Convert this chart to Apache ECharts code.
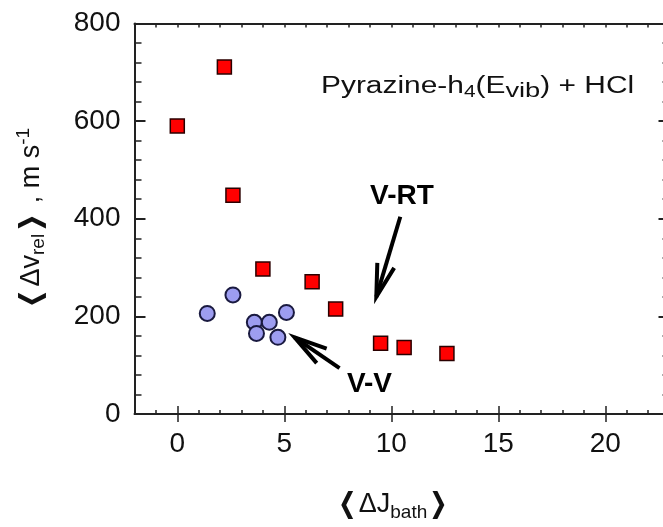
<!DOCTYPE html>
<html>
<head>
<meta charset="utf-8">
<script src="https://cdn.jsdelivr.net/npm/echarts@6/dist/echarts.min.js"></script>
<style>
  html, body { margin: 0; padding: 0; background: #fff; }
  #chart { width: 663px; height: 527px; }
</style>
</head>
<body>
<div id="chart"></div>
<script>
// V-RT channel: mean recoil velocity vs. mean bath rotational change
const vrtJ = [0, 2.2, 2.6, 4.0, 6.3, 7.4, 9.5, 10.6, 12.6];
const vrtV = [590, 711, 448, 297, 271, 215, 145, 136, 124];

// V-V channel
const vvJ = [1.4, 2.6, 3.6, 3.7, 4.3, 4.7, 5.1];
const vvV = [206, 244, 188, 165, 188, 157, 208];

// axis ranges and ticks
const xRange = [-2, 23];
const xMajorTicks = [0, 5, 10, 15, 20];
const yRange = [0, 800];
const yStep = 200;

// annotation arrows: [tailJ, tailV, tipJ, tipV]
const arrows = [
  [10.42, 404, 9.3, 240],
  [7.58, 94, 5.48, 157]
];
// annotation labels: [J, V, text]
const notes = [
  [10.5, 446, 'V-RT'],
  [8.98, 61, 'V-V']
];

const FONT = '"Liberation Sans", Arial, Helvetica, sans-serif';
const AXIS_COLOR = '#222';

const chart = echarts.init(document.getElementById('chart'), null, { renderer: 'canvas' });

function pairs(xs, ys) { return xs.map((x, i) => [x, ys[i]]); }

const baseX = {
  type: 'value', min: xRange[0], max: xRange[1],
  splitLine: { show: false }
};
const baseY = {
  type: 'value', min: yRange[0], max: yRange[1], interval: yStep,
  splitLine: { show: false }
};

function renderArrow(params, api) {
  const tail = api.coord([api.value(0), api.value(1)]);
  const tip = api.coord([api.value(2), api.value(3)]);
  const ang = Math.atan2(tail[1] - tip[1], tail[0] - tip[0]);
  const len = 34, spread = 15 * Math.PI / 180;
  const a1 = [tip[0] + len * Math.cos(ang + spread), tip[1] + len * Math.sin(ang + spread)];
  const a2 = [tip[0] + len * Math.cos(ang - spread), tip[1] + len * Math.sin(ang - spread)];
  return {
    type: 'group',
    children: [
      { type: 'line', shape: { x1: tail[0], y1: tail[1], x2: tip[0], y2: tip[1] },
        style: { stroke: '#000', lineWidth: 4 } },
      { type: 'polyline', shape: { points: [a1, tip, a2] },
        style: { stroke: '#000', lineWidth: 4, fill: null, lineJoin: 'miter' } }
    ]
  };
}

function renderNote(params, api) {
  const p = api.coord([api.value(0), api.value(1)]);
  return {
    type: 'text',
    x: p[0], y: p[1],
    style: {
      text: notes[params.dataIndex][2],
      fontFamily: FONT, fontWeight: 'bold', fontSize: 28,
      fill: '#000', align: 'center', verticalAlign: 'middle'
    }
  };
}

chart.setOption({
  animation: false,
  backgroundColor: '#fff',
  grid: { left: 134.5, top: 23.5, width: 535, height: 390.5, containLabel: false, outerBoundsMode: 'none' },
  xAxis: [
    Object.assign({}, baseX, {
      position: 'bottom', interval: 1,
      axisLine: { show: true, onZero: false, lineStyle: { color: AXIS_COLOR, width: 2 } },
      axisTick: { show: true, inside: true, length: 4, lineStyle: { color: AXIS_COLOR, width: 1.5 } },
      axisLabel: {
        show: true, margin: 16, fontSize: 28, color: '#111', fontFamily: FONT,
        formatter: v => (xMajorTicks.indexOf(v) >= 0 ? String(v) : '')
      },
      name: '{br|❬}ΔJ{sub|bath}{br|❭}',
      nameLocation: 'middle', nameGap: 74,
      nameTextStyle: {
        fontSize: 27, color: '#111', fontFamily: FONT, padding: [0, 18, 0, 0],
        rich: {
          sub: { fontSize: 19, fontFamily: FONT, color: '#111', padding: [15, 0, 0, 0] },
          br: { fontSize: 27, fontFamily: FONT, fontWeight: 'bold', color: '#111' }
        }
      }
    }),
    Object.assign({}, baseX, {
      position: 'bottom',
      axisLine: { show: false },
      axisTick: { show: true, inside: true, length: 8, customValues: xMajorTicks,
                  lineStyle: { color: AXIS_COLOR, width: 1.5 } },
      axisLabel: { show: false }
    }),
    Object.assign({}, baseX, {
      position: 'top', interval: 1,
      axisLine: { show: true, onZero: false, lineStyle: { color: AXIS_COLOR, width: 2 } },
      axisTick: { show: true, inside: true, length: 4, lineStyle: { color: AXIS_COLOR, width: 1.5 } },
      axisLabel: { show: false }
    }),
    Object.assign({}, baseX, {
      position: 'top',
      axisLine: { show: false },
      axisTick: { show: true, inside: true, length: 8, customValues: xMajorTicks,
                  lineStyle: { color: AXIS_COLOR, width: 1.5 } },
      axisLabel: { show: false }
    })
  ],
  yAxis: [
    Object.assign({}, baseY, {
      position: 'left',
      axisLine: { show: true, onZero: false, lineStyle: { color: AXIS_COLOR, width: 2 } },
      axisTick: { show: true, inside: true, length: 11, lineStyle: { color: AXIS_COLOR, width: 2 } },
      minorTick: { show: true, splitNumber: 5, length: 7, lineStyle: { color: AXIS_COLOR, width: 1.5 } },
      axisLabel: { show: true, margin: 14, fontSize: 28, color: '#111', fontFamily: FONT },
      name: '{br|❬}Δv{sub|rel}{br|❭} , m s{sup|-1}',
      nameLocation: 'middle', nameGap: 86,
      nameTextStyle: {
        fontSize: 27, color: '#111', fontFamily: FONT,
        rich: {
          sub: { fontSize: 19, fontFamily: FONT, color: '#111', padding: [15, 0, 0, 0] },
          sup: { fontSize: 19, fontFamily: FONT, color: '#111', padding: [0, 0, 15, 0] },
          br: { fontSize: 27, fontFamily: FONT, fontWeight: 'bold', color: '#111' }
        }
      }
    }),
    Object.assign({}, baseY, {
      position: 'right',
      axisLine: { show: true, onZero: false, lineStyle: { color: AXIS_COLOR, width: 2 } },
      axisTick: { show: true, inside: true, length: 11, lineStyle: { color: AXIS_COLOR, width: 2 } },
      minorTick: { show: true, splitNumber: 5, length: 7, lineStyle: { color: AXIS_COLOR, width: 1.5 } },
      axisLabel: { show: false }
    })
  ],
  graphic: [
    {
      type: 'text', x: 321, y: 71, scaleX: 1.3, scaleY: 1,
      style: {
        text: 'Pyrazine-h{sub4|4}(E{subv|vib}) + HCl',
        fontFamily: FONT, fontSize: 23, fill: '#111',
        rich: {
          sub4: { fontFamily: FONT, fontSize: 16, fill: '#111', padding: [12, 0, 0, 0] },
          subv: { fontFamily: FONT, fontSize: 21, fill: '#111', padding: [10, 0, 0, 0] }
        }
      }
    }
  ],
  series: [
    {
      name: 'V-RT', type: 'scatter', xAxisIndex: 0, yAxisIndex: 0,
      symbol: 'rect', symbolSize: 14,
      itemStyle: { color: '#ff0000', borderColor: '#2a0000', borderWidth: 1.5, opacity: 1 },
      data: pairs(vrtJ, vrtV), z: 3
    },
    {
      name: 'V-V', type: 'scatter', xAxisIndex: 0, yAxisIndex: 0,
      symbol: 'circle', symbolSize: 15,
      itemStyle: { color: '#9d9df0', borderColor: '#1a1a40', borderWidth: 2, opacity: 1 },
      data: pairs(vvJ, vvV), z: 3
    },
    {
      type: 'custom', xAxisIndex: 0, yAxisIndex: 0, clip: false,
      renderItem: renderArrow, data: arrows, z: 4, silent: true
    },
    {
      type: 'custom', xAxisIndex: 0, yAxisIndex: 0, clip: false,
      renderItem: renderNote, data: notes.map(n => [n[0], n[1]]), z: 4, silent: true
    }
  ]
});
</script>
</body>
</html>
